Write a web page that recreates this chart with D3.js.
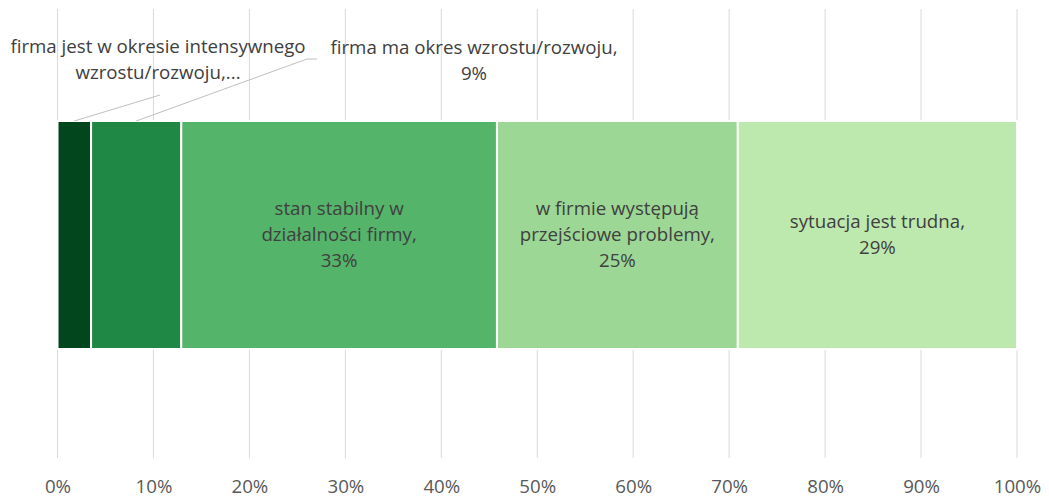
<!DOCTYPE html>
<html><head><meta charset="utf-8">
<script src="https://cdn.jsdelivr.net/npm/d3@7"></script>
<style>body{margin:0;background:#fff}svg{display:block}text{font-family:"Open Sans",sans-serif}</style>
</head><body><svg id="c" width="1049" height="497"></svg>
<script>
const categories = ["firma jest w okresie intensywnego wzrostu/rozwoju","firma ma okres wzrostu/rozwoju","stan stabilny w działalności firmy","w firmie występują przejściowe problemy","sytuacja jest trudna"];
const values = [3.5, 9.4, 32.9, 25.1, 29.1];
const labelText = [["firma jest w okresie intensywnego","wzrostu/rozwoju,..."],["firma ma okres wzrostu/rozwoju,"],["stan stabilny w","działalności firmy,"],["w firmie występują","przejściowe problemy,"],["sytuacja jest trudna,"]];
const showPct = [false,true,true,true,true];
const colors = ["#01461d","#1f8844","#54b46a","#9cd795","#bee9ae"];
const tickValues = [0,10,20,30,40,50,60,70,80,90,100];

const FS = 18.7;
const svg = d3.select("#c");
const x = d3.scaleLinear().domain([0,100]).range([57.5,1017]);
const barTop = 121, barBot = 349;

// gridlines
svg.append("g").selectAll("line").data(tickValues).join("line")
  .attr("x1",d=>x(d)).attr("x2",d=>x(d)).attr("y1",9).attr("y2",458)
  .attr("stroke","#d9d9d9").attr("stroke-width",1);

// axis labels
const ax = d3.axisBottom(x).tickValues(tickValues).tickFormat(d=>d+"%").tickSize(0).tickPadding(0);
const axg = svg.append("g").attr("transform","translate(0,479)").call(ax);
axg.select(".domain").remove();
axg.selectAll("text").attr("font-family","Open Sans").attr("font-size",FS).attr("fill","#595959").attr("dy","0.76em");

let cum = 0;
const segs = values.map((v,i)=>{const s={i,v,x0:cum,x1:cum+v,cat:categories[i]};cum+=v;return s;});

svg.append("g").selectAll("rect").data(segs).join("rect")
  .attr("x",d=>x(d.x0)).attr("width",d=>x(d.x1)-x(d.x0))
  .attr("y",barTop).attr("height",barBot-barTop)
  .attr("fill",d=>colors[d.i]).attr("stroke","#fff").attr("stroke-width",2);

function lines(d){const l=labelText[d.i].slice(); if(showPct[d.i]) l.push(Math.round(d.v)+"%"); return l;}

// inside labels
const inside = segs.filter(d=>d.i>=2);
inside.forEach(d=>{
  const L = lines(d), lh = 26;
  const cy = (barTop+barBot)/2;
  const y0 = cy - (L.length-1)*lh/2 + 6;
  const t = svg.append("text").attr("text-anchor","middle").attr("font-size",FS).attr("fill","#404040");
  L.forEach((s,k)=>t.append("tspan").attr("x",(x(d.x0)+x(d.x1))/2).attr("y",y0+k*lh).text(s));
});

// outside labels with leader lines
const outPos = [{cx:158,y:53,lx:160,ly:95,hx:null},{cx:474,y:54,lx:307,ly:59,hx:317}];
[0,1].forEach(i=>{
  const d = segs[i], p = outPos[i];
  const mx = (x(d.x0)+x(d.x1))/2;
  const pts = [[mx,barTop],[p.lx,p.ly]]; if(p.hx) pts.push([p.hx,p.ly]);
  svg.append("path").attr("d",d3.line()(pts)).attr("fill","none").attr("stroke","#bfbfbf").attr("stroke-width",1);
  const L = lines(d);
  const t = svg.append("text").attr("text-anchor","middle").attr("font-size",FS).attr("fill","#404040");
  L.forEach((s,k)=>t.append("tspan").attr("x",p.cx).attr("y",p.y+k*26).text(s));
});
</script></body></html>
